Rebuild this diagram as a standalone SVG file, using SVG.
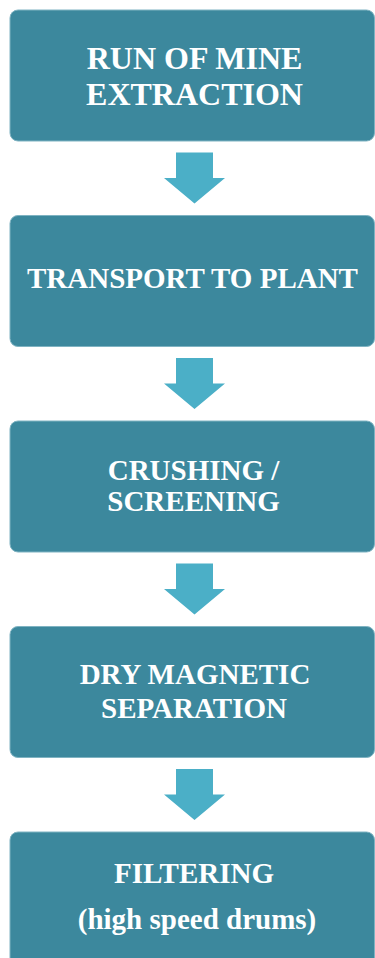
<svg xmlns="http://www.w3.org/2000/svg" width="375" height="958" viewBox="0 0 375 958">
<style>
.box{fill:#3C889D;stroke:#7FB3C2;stroke-width:1}
.t{fill:#FFFFFF;font-family:"Liberation Serif","Times New Roman",serif;font-weight:bold;text-anchor:middle}
.arr{fill:#4BAFC7}
</style>
<rect width="375" height="958" fill="#FFFFFF"/>
<g id="connectors">
<polygon class="arr" points="176,152.5 213,152.5 213,178 225,178 194.5,203.5 164,178 176,178"/>
<polygon class="arr" points="176,358 213,358 213,383.5 225,383.5 194.5,409 164,383.5 176,383.5"/>
<polygon class="arr" points="176,563.5 213,563.5 213,589 225,589 194.5,614.5 164,589 176,589"/>
<polygon class="arr" points="176,769 213,769 213,794.5 225,794.5 194.5,820 164,794.5 176,794.5"/>
</g>
<g id="n1">
<rect class="box" x="10" y="10" width="364.5" height="131" rx="8"/>
<text class="t" x="194.5" y="69" font-size="32">RUN OF MINE</text>
<text class="t" x="194.5" y="105" font-size="32">EXTRACTION</text>
</g>
<g id="n2">
<rect class="box" x="10" y="215.5" width="364.5" height="131" rx="8"/>
<text class="t" x="192.5" y="287.5" font-size="29">TRANSPORT TO PLANT</text>
</g>
<g id="n3">
<rect class="box" x="10" y="421" width="364.5" height="131" rx="8"/>
<text class="t" x="193.5" y="480" font-size="29">CRUSHING /</text>
<text class="t" x="193.5" y="511" font-size="29">SCREENING</text>
</g>
<g id="n4">
<rect class="box" x="10" y="626.5" width="364.5" height="131" rx="8"/>
<text class="t" x="195" y="684" font-size="29">DRY MAGNETIC</text>
<text class="t" x="194" y="718" font-size="29">SEPARATION</text>
</g>
<g id="n5">
<rect class="box" x="10" y="832" width="364.5" height="140" rx="8"/>
<text class="t" x="194" y="883" font-size="29">FILTERING</text>
<text class="t" x="197" y="929" font-size="29">(high speed drums)</text>
</g>
</svg>
